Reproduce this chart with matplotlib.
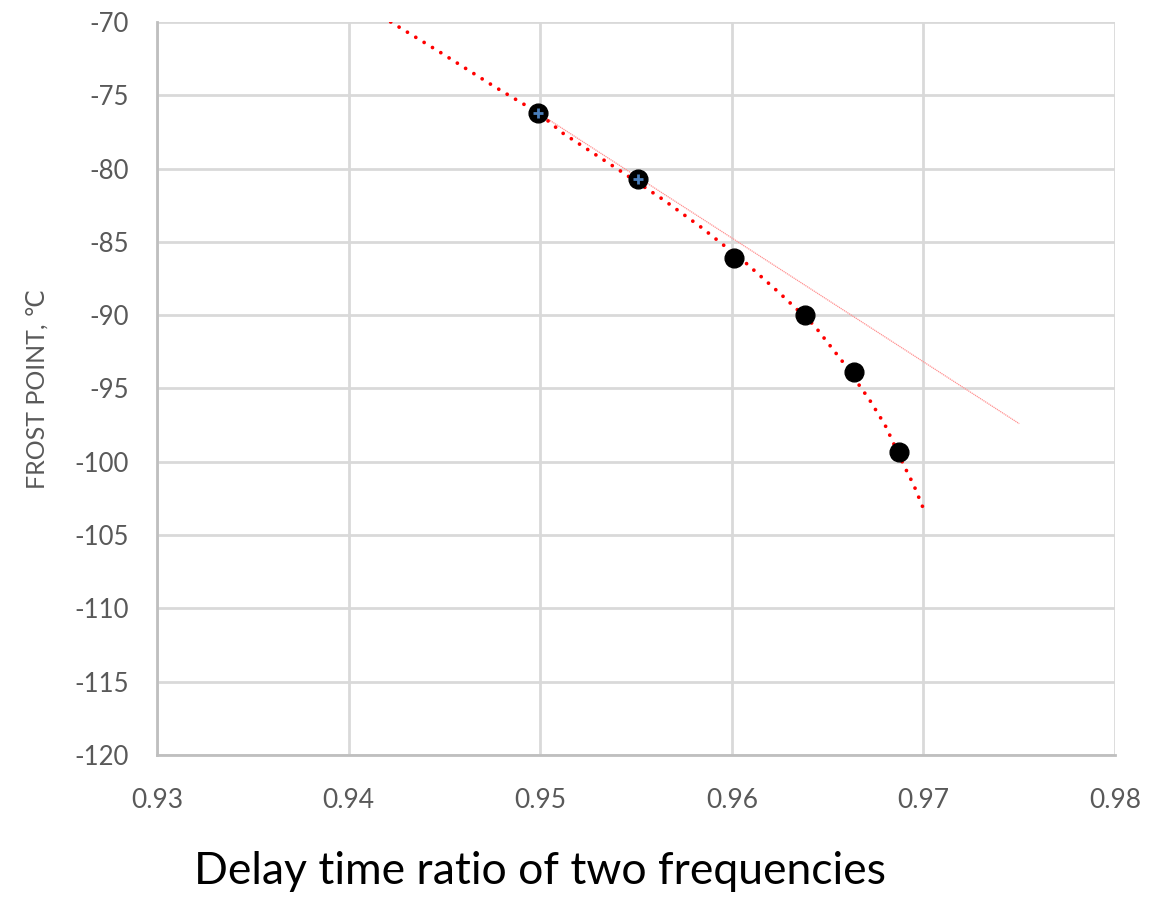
import matplotlib
matplotlib.use("Agg")
import matplotlib.pyplot as plt

# measured points (delay time ratio, frost point degC)
ratio = [0.9499, 0.9551, 0.9601, 0.9638, 0.9664, 0.9687]
frost = [-76.2, -80.7, -86.1, -90.0, -93.9, -99.3]

# the two points that also carry a blue "+" marker
ratio_plus = [0.9499, 0.9551]
frost_plus = [-76.2, -80.7]

# dotted red trend curve
curve_x = [0.9422, 0.9447, 0.9476, 0.9499, 0.9512, 0.9540, 0.9564, 0.9584,
           0.9607, 0.9625, 0.9643, 0.9658, 0.9672, 0.9680, 0.9690, 0.9695, 0.9700]
curve_y = [-70.0, -72.0, -74.4, -76.2, -77.6, -80.0, -82.1, -84.0,
           -86.4, -88.5, -90.7, -93.2, -95.8, -97.5, -100.3, -101.6, -103.2]

# thin straight trend line
line_x = [0.9499, 0.9750]
line_y = [-76.2, -97.4]

x_ticks = [0.93, 0.94, 0.95, 0.96, 0.97, 0.98]
y_ticks = [-120, -115, -110, -105, -100, -95, -90, -85, -80, -75, -70]

fig = plt.figure(figsize=(11.66, 8.97), dpi=100)
ax = fig.add_axes([0.1346, 0.1583, 0.8217, 0.8172])

ax.plot(line_x, line_y, color="#ff9090", linewidth=0.9, linestyle=(0, (1, 0.6)), zorder=2)
ax.plot(curve_x, curve_y, color="#ff0000", linewidth=2.7,
        linestyle=(0, (0.01, 2.6)), dash_capstyle="round", zorder=3)
ax.plot(ratio, frost, linestyle="none", marker="o", markersize=13.5,
        color="black", zorder=4)
ax.plot(ratio_plus, frost_plus, linestyle="none", marker="+", markersize=7,
        markeredgewidth=2, color="#4a7ebb", zorder=5)

ax.set_xlim(0.93, 0.98)
ax.set_ylim(-120, -70)
ax.set_xticks(x_ticks)
ax.set_xticklabels([f"{t:.2f}" for t in x_ticks])
ax.set_yticks(y_ticks)
ax.set_yticklabels([str(t) for t in y_ticks])

ax.grid(True, color="#d9d9d9", linewidth=2)
ax.set_axisbelow(True)
for side in ["top", "right"]:
    ax.spines[side].set_visible(False)
for side in ["left", "bottom"]:
    ax.spines[side].set_color("#bfbfbf")
    ax.spines[side].set_linewidth(2)

ax.tick_params(axis="both", length=0, colors="#595959")
ax.tick_params(axis="x", labelsize=19, pad=24)
ax.tick_params(axis="y", labelsize=18.5, pad=20)
for lab in ax.get_xticklabels() + ax.get_yticklabels():
    lab.set_family(["Lato", "DejaVu Sans"])

fig.text(0.032, 0.566, "FROST POINT, \u2103", rotation=90, ha="center", va="center",
         fontsize=18, color="#595959", family=["Lato", "DejaVu Sans"])
fig.text(0.463, 0.028, "Delay time ratio of two frequencies", ha="center", va="center",
         fontsize=32, color="black", family=["Lato", "DejaVu Sans"])

fig.savefig("out.png", dpi=100)
